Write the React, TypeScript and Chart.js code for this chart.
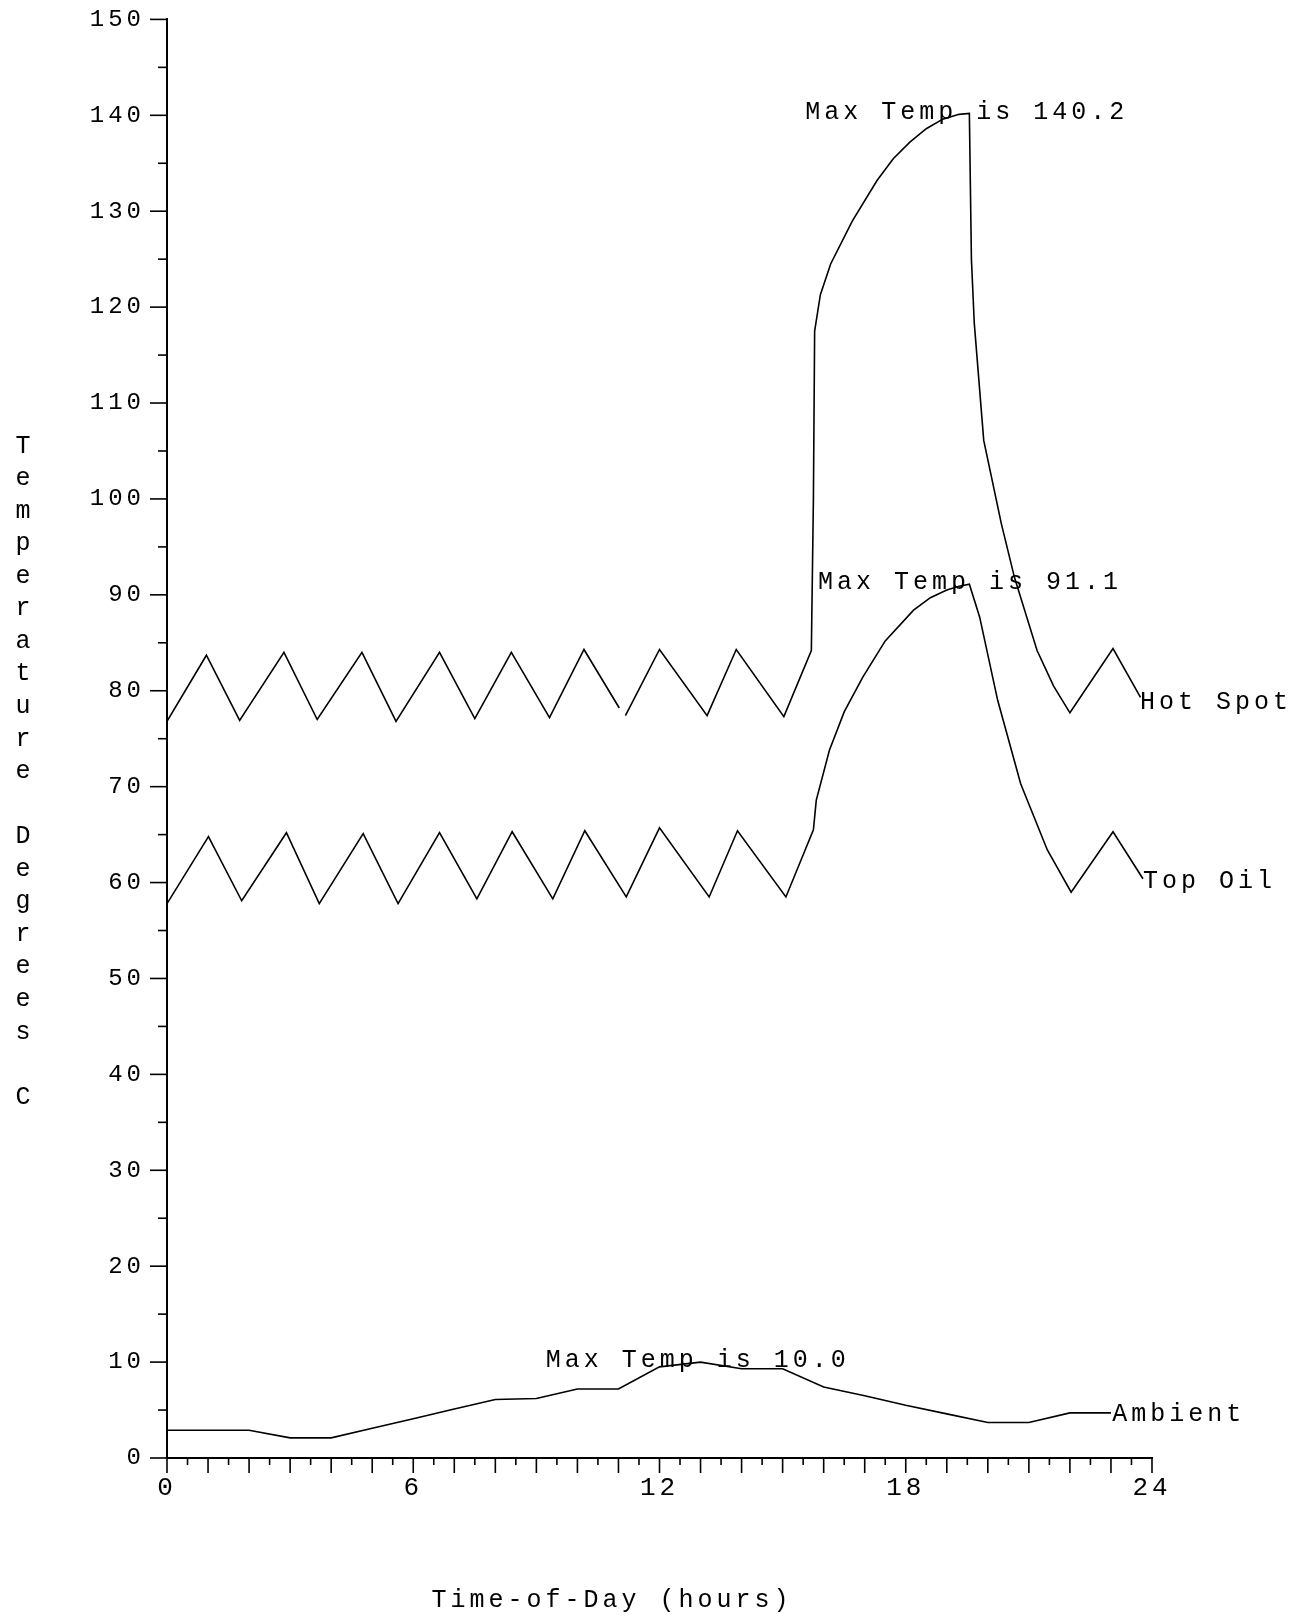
import React, { useEffect, useRef } from 'react';
import { Chart, registerables } from 'chart.js';

Chart.register(...registerables);

const W = 1314;
const H = 1619;
const FONT = '"Liberation Mono", "Courier New", monospace';

// ---- data (hours, degrees C) ----
const hotSpotHours = [
  0.0, 0.96, 1.77, 2.85, 3.66, 4.75, 5.58, 6.64, 7.5, 8.39, 9.32, 10.16, 11.02, 11.1,
  11.17, 12.0, 13.16, 13.87, 15.03, 15.7, 15.75, 15.78, 15.92, 16.17, 16.7, 17.3, 17.7,
  18.1, 18.5, 18.9, 19.3, 19.55, 19.6, 19.67, 19.9, 20.33, 20.65, 21.2, 21.6, 22.0, 23.05, 23.72,
];
const hotSpotTemps = [
  76.8, 83.7, 76.9, 84.0, 77.0, 84.0, 76.8, 84.0, 77.1, 84.0, 77.2, 84.3, 78.2, null,
  77.4, 84.3, 77.4, 84.3, 77.3, 84.2, 100.0, 117.5, 121.3, 124.5, 129.0, 133.2, 135.5,
  137.2, 138.6, 139.6, 140.1, 140.2, 125.0, 118.3, 106.1, 97.4, 91.8, 84.2, 80.5, 77.7, 84.4, 79.3,
];

const topOilHours = [
  0.0, 1.01, 1.82, 2.91, 3.71, 4.78, 5.63, 6.64, 7.55, 8.41, 9.4, 10.18, 11.19, 12.0,
  13.21, 13.9, 15.08, 15.75, 15.82, 16.14, 16.5, 16.95, 17.5, 18.19, 18.6, 19.0, 19.3,
  19.55, 19.8, 20.24, 20.8, 21.45, 22.03, 23.05, 23.78,
];
const topOilTemps = [
  57.8, 64.8, 58.1, 65.2, 57.8, 65.1, 57.8, 65.2, 58.3, 65.3, 58.3, 65.4, 58.5, 65.7,
  58.5, 65.4, 58.5, 65.5, 68.6, 73.8, 77.8, 81.4, 85.2, 88.4, 89.7, 90.5, 90.9,
  91.1, 87.7, 79.0, 70.3, 63.4, 59.0, 65.3, 60.4,
];

const ambientHours = [
  0, 1, 2, 3, 4, 5, 6, 7, 8, 9, 10, 11, 12, 13, 14, 15, 16, 17, 18, 19, 20, 21, 22, 23,
];
const ambientTemps = [
  2.9, 2.9, 2.9, 2.1, 2.1, 3.1, 4.1, 5.1, 6.1, 6.2, 7.2, 7.2, 9.5, 10.0, 9.3, 9.3,
  7.4, 6.5, 5.5, 4.6, 3.7, 3.7, 4.7, 4.7,
];

const xTickValues = [0, 6, 12, 18, 24];
const yTickValues = [0, 10, 20, 30, 40, 50, 60, 70, 80, 90, 100, 110, 120, 130, 140, 150];

// text labels anchored in data coordinates (hour, degrees)
const labelTexts = ['Max Temp is 140.2', 'Max Temp is 91.1', 'Max Temp is 10.0', 'Hot Spot', 'Top Oil', 'Ambient'];
const labelHours = [15.55, 15.86, 9.23, 23.71, 23.78, 23.03];
const labelTemps = [139.6, 90.6, 9.45, 78.1, 59.4, 3.85];

const xTitle = 'Time-of-Day (hours)';
const yTitle = 'Temperature Degrees C';

const toPoints = (xs: number[], ys: (number | null)[]) => xs.map((x, i) => ({ x, y: ys[i] }));

export default function App() {
  const ref = useRef<HTMLCanvasElement>(null);

  useEffect(() => {
    const canvas = ref.current;
    if (!canvas) return;
    Chart.defaults.font.family = FONT;
    Chart.defaults.color = '#000';

    const overlay = {
      id: 'overlay',
      beforeDraw(chart: any) {
        chart.ctx.letterSpacing = '4px';
      },
      afterDraw(chart: any) {
        const ctx = chart.ctx as CanvasRenderingContext2D;
        const xs = chart.scales.x;
        const ys = chart.scales.y;
        ctx.save();
        ctx.strokeStyle = '#000';
        ctx.lineWidth = 1.6;
        // x tick marks: long every hour, short every half hour
        const yb = ys.getPixelForValue(0);
        for (let h = 0; h <= 24; h += 0.5) {
          const px = xs.getPixelForValue(h);
          const len = h % 1 === 0 ? 15 : 7;
          ctx.beginPath();
          ctx.moveTo(px, yb);
          ctx.lineTo(px, yb + len);
          ctx.stroke();
        }
        // y tick marks: long every 10, short every 5
        const xl = xs.getPixelForValue(0);
        for (let v = 0; v <= 150; v += 5) {
          const py = ys.getPixelForValue(v);
          const len = v % 10 === 0 ? 17 : 9;
          ctx.beginPath();
          ctx.moveTo(xl - len, py);
          ctx.lineTo(xl, py);
          ctx.stroke();
        }
        // labels
        ctx.fillStyle = '#000';
        ctx.font = `25px ${FONT}`;
        (ctx as any).letterSpacing = '4px';
        ctx.textAlign = 'left';
        ctx.textBaseline = 'alphabetic';
        labelTexts.forEach((t, i) => {
          ctx.fillText(t, xs.getPixelForValue(labelHours[i]), ys.getPixelForValue(labelTemps[i]));
        });
        // x title
        ctx.textAlign = 'center';
        ctx.textBaseline = 'middle';
        ctx.fillText(xTitle, 612, 1600);
        // y title, one letter per line
        const chars = yTitle.split('');
        chars.forEach((c, i) => {
          if (c === ' ') return;
          ctx.fillText(c, 25, 446 + i * 32.55);
        });
        ctx.restore();
      },
    };

    const lineStyle = {
      borderColor: '#000',
      borderWidth: 1.6,
      pointRadius: 0,
      fill: false,
      tension: 0,
      spanGaps: false,
    };

    const chart = new Chart(canvas, {
      type: 'line',
      data: {
        datasets: [
          { label: 'Hot Spot', data: toPoints(hotSpotHours, hotSpotTemps), ...lineStyle },
          { label: 'Top Oil', data: toPoints(topOilHours, topOilTemps), ...lineStyle },
          { label: 'Ambient', data: toPoints(ambientHours, ambientTemps), ...lineStyle },
        ],
      } as any,
      options: {
        animation: false,
        responsive: false,
        devicePixelRatio: 1,
        layout: { padding: { left: 0, right: 162, top: 16, bottom: 0 } },
        plugins: {
          legend: { display: false },
          tooltip: { enabled: false },
          title: { display: false },
        },
        scales: {
          x: {
            type: 'linear',
            position: 'bottom',
            min: 0,
            max: 24,
            afterFit: (s: any) => {
              s.height = 161;
            },
            afterBuildTicks: (s: any) => {
              s.ticks = xTickValues.map((v) => ({ value: v }));
            },
            grid: { display: false, drawTicks: true, tickLength: 12 },
            border: { display: true, color: '#000', width: 2 },
            ticks: {
              autoSkip: false,
              maxRotation: 0,
              padding: 3,
              color: '#000',
              font: { family: FONT, size: 26 },
              callback: (v: any) => String(v),
            },
          },
          y: {
            type: 'linear',
            min: 0,
            max: 150,
            afterFit: (s: any) => {
              s.width = 167;
            },
            afterBuildTicks: (s: any) => {
              s.ticks = yTickValues.map((v) => ({ value: v }));
            },
            grid: { display: false, drawTicks: true, tickLength: 17 },
            border: { display: true, color: '#000', width: 2 },
            ticks: {
              padding: 5,
              color: '#000',
              font: { family: FONT, size: 24 },
              callback: (v: any) => String(v),
            },
          },
        },
      } as any,
      plugins: [overlay],
    });

    return () => chart.destroy();
  }, []);

  return (
    <div style={{ position: 'fixed', left: 0, top: 0, width: W, height: H, background: '#fff' }}>
      <canvas ref={ref} width={W} height={H} style={{ display: 'block' }} />
    </div>
  );
}
